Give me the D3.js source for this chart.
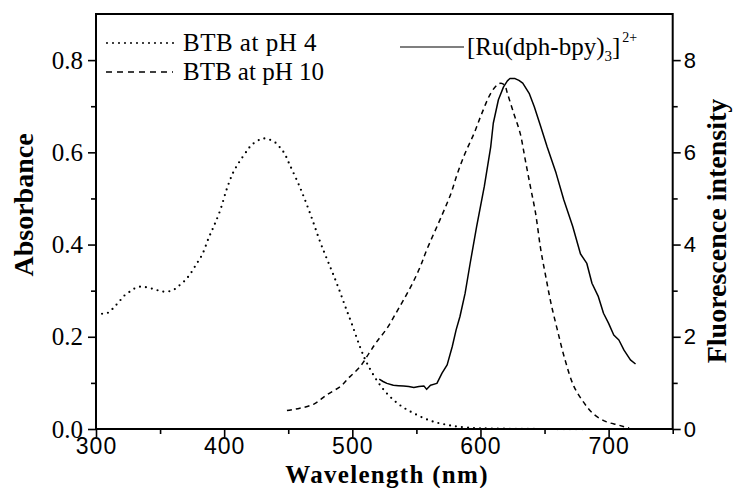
<!DOCTYPE html>
<html><head><meta charset="utf-8">
<script src="https://cdn.jsdelivr.net/npm/d3@7"></script>
<style>body{margin:0;background:#fff}</style></head>
<body>
<svg id="c" width="734" height="488"></svg>
<script>
// ---- data ----
const xTicks = [300, 400, 500, 600, 700];
const xMinor = [350, 450, 550, 650, 750];
const absTicks = [0, 0.2, 0.4, 0.6, 0.8];
const absMinor = [0.1, 0.3, 0.5, 0.7];
const flTicks = [0, 2, 4, 6, 8];
const flMinor = [1, 3, 5, 7];
const seriesNames = ["BTB at pH 4", "BTB at pH 10", "[Ru(dph-bpy)3]2+"];

// BTB at pH 4 (absorbance)
const btbPH4 = [[300,0.25],[305,0.25],[310,0.253],[314,0.264],[318,0.276],[322,0.289],[327,0.299],[331,0.306],[336,0.309],[341,0.306],[346,0.303],[350,0.299],[355,0.298],[360,0.301],[364,0.309],[369,0.321],[373,0.334],[378,0.356],[383,0.379],[388,0.415],[392,0.44],[397,0.475],[402,0.52],[407,0.556],[412,0.58],[418,0.604],[421,0.615],[426,0.625],[430,0.63],[435,0.628],[440,0.621],[444,0.609],[447,0.598],[451,0.574],[459,0.525],[467,0.468],[475,0.405],[480,0.37],[485,0.336],[490,0.3],[495,0.262],[500,0.225],[506,0.178],[511,0.145],[519,0.106],[527,0.077],[537,0.052],[548,0.034],[561,0.018],[574,0.009],[590,0.003],[610,0.001],[650,0],[700,0],[720,0]];

// BTB at pH 10 (absorbance)
const btbPH10 = [[449,0.04],[459,0.045],[470,0.054],[480,0.074],[491,0.093],[498,0.113],[506,0.135],[513,0.164],[519,0.189],[527,0.218],[534,0.251],[540,0.28],[547,0.316],[553,0.352],[558,0.388],[570,0.464],[577,0.511],[582,0.554],[588,0.598],[595,0.641],[601,0.684],[608,0.728],[613,0.746],[616,0.75],[619,0.745],[621,0.728],[626,0.684],[631,0.641],[635,0.583],[639,0.525],[643,0.468],[647,0.39],[651,0.33],[655,0.273],[660,0.215],[666,0.15],[673,0.092],[681,0.056],[688,0.033],[698,0.016],[707,0.009],[712,0.005],[716,0.002]];

// [Ru(dph-bpy)3]2+ (fluorescence intensity)
const ruFluor = [[521,1.08],[524,1.03],[527,0.99],[532,0.95],[536,0.94],[540,0.93],[544,0.92],[548,0.9],[552,0.92],[556,0.93],[558,0.86],[561,0.95],[566,0.99],[570,1.21],[574,1.39],[578,1.79],[581,2.15],[584,2.44],[588,2.94],[592,3.6],[597,4.39],[603,5.26],[608,6.12],[610,6.63],[614,7.14],[618,7.42],[621,7.55],[623,7.6],[627,7.6],[630,7.56],[633,7.5],[638,7.28],[642,6.99],[647,6.56],[652,6.12],[659,5.55],[665,4.97],[672,4.39],[678,3.8],[683,3.59],[687,3.16],[692,2.87],[696,2.51],[700,2.29],[704,2.04],[708,1.93],[712,1.71],[717,1.5],[721,1.41]];

// ---- layout ----
const L = 96, R = 672.7, T = 14, B = 429;
const svg = d3.select("#c");
const x = d3.scaleLinear().domain([300, 750]).range([L, R]);
const yL = d3.scaleLinear().domain([0, 0.9]).range([B, T]);
const yR = d3.scaleLinear().domain([0, 9]).range([B, T]);

const serif = "'Liberation Serif','Times New Roman',serif";
const sans = "'Liberation Sans',Arial,sans-serif";

function styleAxis(g, font, size) {
  g.select(".domain").remove();
  g.selectAll(".tick line").attr("stroke", "#000").attr("stroke-width", 1.6);
  g.selectAll(".tick text").attr("fill", "#000").style("font-family", font).style("font-size", size + "px");
}

// minor ticks
svg.append("g").attr("transform", `translate(0,${B})`)
  .call(d3.axisBottom(x).tickValues(xMinor).tickSize(5).tickFormat(""))
  .call(g => styleAxis(g, sans, 23));
svg.append("g").attr("transform", `translate(${L},0)`)
  .call(d3.axisLeft(yL).tickValues(absMinor).tickSize(5).tickFormat(""))
  .call(g => styleAxis(g, serif, 25));
svg.append("g").attr("transform", `translate(${R},0)`)
  .call(d3.axisRight(yR).tickValues(flMinor).tickSize(5).tickFormat(""))
  .call(g => styleAxis(g, sans, 22));

// major ticks
const xAxisG = svg.append("g").attr("transform", `translate(0,${B})`)
  .call(d3.axisBottom(x).tickValues(xTicks).tickSize(8).tickPadding(1).tickFormat(d3.format("d")))
  .call(g => styleAxis(g, sans, 23));
xAxisG.selectAll(".tick text").attr("letter-spacing", 1);
svg.append("g").attr("transform", `translate(${L},0)`)
  .call(d3.axisLeft(yL).tickValues(absTicks).tickSize(8).tickPadding(5).tickFormat(d3.format(".1f")))
  .call(g => styleAxis(g, serif, 25));
svg.append("g").attr("transform", `translate(${R},0)`)
  .call(d3.axisRight(yR).tickValues(flTicks).tickSize(8).tickPadding(3).tickFormat(d3.format("d")))
  .call(g => styleAxis(g, sans, 22));

// frame
svg.append("rect").attr("x", L).attr("y", T).attr("width", R - L).attr("height", B - T)
  .attr("fill", "none").attr("stroke", "#000").attr("stroke-width", 2);

// curves
const lineL = d3.line().x(d => x(d[0])).y(d => yL(d[1])).curve(d3.curveCatmullRom);
const lineR = d3.line().x(d => x(d[0])).y(d => yR(d[1]));

svg.append("path").datum(btbPH4).attr("d", lineL)
  .attr("fill", "none").attr("stroke", "#000").attr("stroke-width", 2.2)
  .attr("stroke-linecap", "round").attr("stroke-dasharray", "0,6");
svg.append("path").datum(btbPH10).attr("d", lineL)
  .attr("fill", "none").attr("stroke", "#000").attr("stroke-width", 1.5)
  .attr("stroke-dasharray", "5,4");
svg.append("path").datum(ruFluor).attr("d", lineR)
  .attr("fill", "none").attr("stroke", "#000").attr("stroke-width", 1.5)
  .attr("stroke-linejoin", "round");

// legend
const leg = svg.append("g");
leg.append("line").attr("x1", 107).attr("x2", 176).attr("y1", 43).attr("y2", 43)
  .attr("stroke", "#000").attr("stroke-width", 2).attr("stroke-linecap", "round").attr("stroke-dasharray", "0,6");
leg.append("text").attr("x", 183).attr("y", 51).text(seriesNames[0]).attr("letter-spacing", 0.5)
  .style("font-family", serif).style("font-size", "25px");
leg.append("line").attr("x1", 106).attr("x2", 173).attr("y1", 72).attr("y2", 72)
  .attr("stroke", "#000").attr("stroke-width", 1.4).attr("stroke-dasharray", "6,5");
leg.append("text").attr("x", 183).attr("y", 80).text(seriesNames[1])
  .style("font-family", serif).style("font-size", "25px");
leg.append("line").attr("x1", 400).attr("x2", 464).attr("y1", 47).attr("y2", 47)
  .attr("stroke", "#000").attr("stroke-width", 1.2);
const ru = leg.append("text").attr("x", 467).attr("y", 55)
  .style("font-family", serif).style("font-size", "25px");
ru.append("tspan").text("[Ru(dph-bpy)");
ru.append("tspan").attr("dy", 6).style("font-size", "15px").text("3");
ru.append("tspan").attr("dy", -6).text("]");
ru.append("tspan").attr("dy", -13).attr("dx", 2).style("font-size", "14px").text("2+");

// axis titles
svg.append("text").attr("x", 387).attr("y", 482.5).attr("text-anchor", "middle")
  .attr("letter-spacing", 1.3)
  .style("font-family", serif).style("font-size", "25px").style("font-weight", "bold")
  .text("Wavelength (nm)");
svg.append("text").attr("transform", "translate(33,205) rotate(-90)").attr("text-anchor", "middle")
  .style("font-family", serif).style("font-size", "28px").style("font-weight", "bold")
  .text("Absorbance");
svg.append("text").attr("transform", "translate(726,231) rotate(-90)").attr("text-anchor", "middle")
  .style("font-family", serif).style("font-size", "28px").style("font-weight", "bold")
  .text("Fluorescence intensity");
</script>
</body></html>
